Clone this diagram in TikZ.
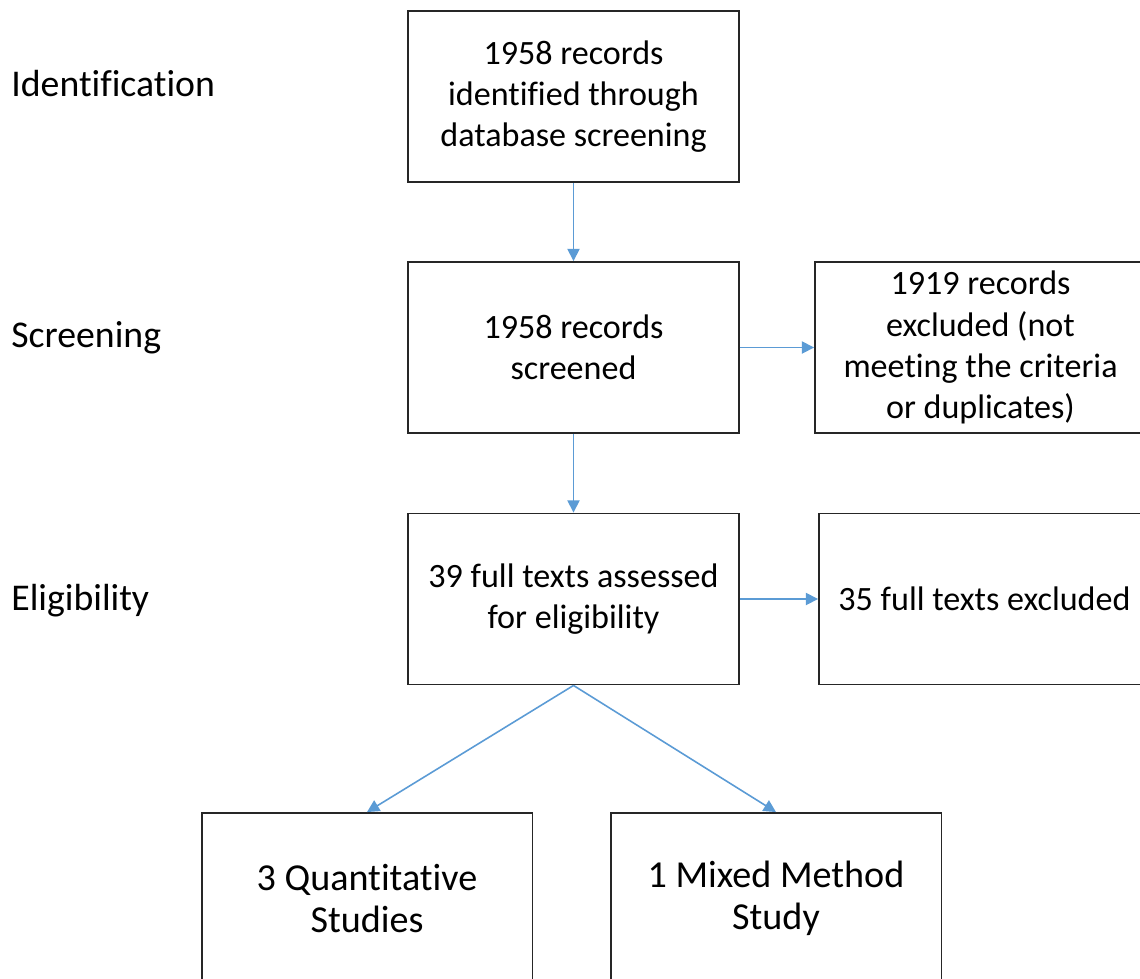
\documentclass[tikz,border=0pt]{standalone}
\usepackage{fontspec}
\setmainfont{Carlito}[Ligatures=CommonOff]
\usetikzlibrary{arrows.meta}
\definecolor{flowblue}{HTML}{5B9BD5}
\definecolor{boxgray}{HTML}{262626}
\begin{document}
\begin{tikzpicture}[x=0.02cm,y=-0.02cm,
  box/.style={draw=boxgray,line width=1.1pt,minimum width=6.62cm,minimum height=3.42cm,
    align=center,inner sep=0pt,font=\fontsize{19.4}{23.4}\selectfont},
  bigbox/.style={box,font=\fontsize{21.7}{23.8}\selectfont},
  stage/.style={anchor=west,inner sep=0pt,font=\fontsize{21.5}{25}\selectfont},
  flow/.style={-{Triangle[length=7pt,width=7pt]},flowblue,line width=0.9pt}]
  \clip (0,0) rectangle (1140,978);
  \useasboundingbox (0,0) rectangle (1140,978);

  \node[stage] (idlab) at (11,84) {Identification};
  \node[stage] (scrlab) at (11,338) {Screening};
  \node[stage] (elilab) at (11,601) {Eligibility};

  \node[box] (ident) at (573.5,96.5) {1958 records\\identified through\\database screening};
  \node[box] (screen) at (573.5,347.5) {1958 records\\screened};
  \node[box] (excl) at (980.5,347.5) {1919 records\\excluded (not\\meeting the criteria\\or duplicates)};
  \node[box] (elig) at (573.5,599) {39 full texts assessed\\for eligibility};
  \node[box] (fullex) at (984.5,599) {35 full texts excluded};
  \node[bigbox] (quant) at (367,898.5) {3 Quantitative\\Studies};
  \node[bigbox] (mixed) at (776,898.5) {1 Mixed Method\\Study};

  \draw[flow] (ident) -- (screen);
  \draw[flow] (screen) -- (excl);
  \draw[flow] (screen) -- (elig);
  \draw[flow] (elig) -- (fullex);
  \draw[flow] (elig.south) -- (quant.north);
  \draw[flow] (elig.south) -- (mixed.north);

\end{tikzpicture}
\end{document}
